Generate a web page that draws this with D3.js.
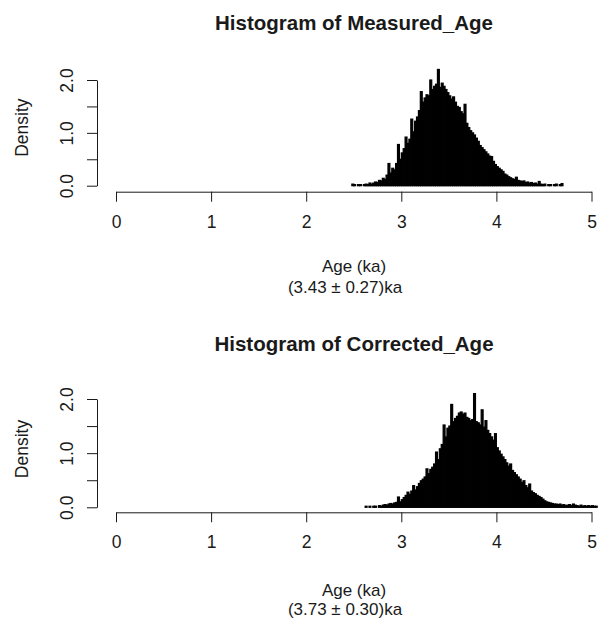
<!DOCTYPE html>
<html>
<head>
<meta charset="utf-8">
<script src="https://cdn.jsdelivr.net/npm/d3@7"></script>
<style>
    body { margin: 0; background: #fff; }
    svg { display: block; font-family: "Liberation Sans", Arial, sans-serif; }
</style>
</head>
<body>
<div id="chart"></div>
<script>
// Histogram data (density per bin of width 0.02 ka)
const binWidth = 0.02;
const measuredStart = 2.48;
const measuredDensity = [
    0.03, 0.02, 0.00, 0.02, 0.02, 0.00, 0.02, 0.03, 0.02, 0.05,
    0.03, 0.05, 0.07, 0.06, 0.10, 0.09, 0.14, 0.12, 0.20, 0.42,
    0.24, 0.33, 0.30, 0.42, 0.78, 0.50, 0.62, 0.70, 0.92, 0.80,
    0.88, 1.26, 1.02, 1.22, 1.30, 1.42, 1.78, 1.58, 1.66, 1.72,
    1.70, 2.00, 1.82, 1.88, 1.92, 2.20, 1.86, 1.94, 1.88, 1.82,
    1.76, 1.70, 1.64, 1.68, 1.58, 1.50, 1.48, 1.40, 1.36, 1.54,
    1.18, 1.10, 1.04, 1.00, 0.96, 0.90, 0.84, 0.76, 0.72, 0.68,
    0.64, 0.60, 0.56, 0.55, 0.46, 0.40, 0.36, 0.33, 0.30, 0.27,
    0.22, 0.20, 0.17, 0.15, 0.13, 0.12, 0.16, 0.10, 0.09, 0.08,
    0.09, 0.06, 0.07, 0.05, 0.06, 0.04, 0.05, 0.03, 0.08, 0.03,
    0.02, 0.03, 0.00, 0.02, 0.02, 0.00, 0.02, 0.03, 0.00, 0.02,
    0.04
];
const correctedStart = 2.62;
const correctedDensity = [
    0.02, 0.00, 0.02, 0.00, 0.02, 0.02, 0.00, 0.03, 0.02, 0.04,
    0.05, 0.04, 0.06, 0.07, 0.06, 0.08, 0.09, 0.19, 0.10, 0.14,
    0.18, 0.22, 0.28, 0.24, 0.30, 0.40, 0.32, 0.38, 0.44, 0.49,
    0.52, 0.56, 0.71, 0.62, 0.70, 0.74, 0.80, 1.02, 0.88, 1.08,
    1.16, 1.52, 1.30, 1.46, 1.50, 1.90, 1.58, 1.64, 1.68, 1.74,
    1.76, 1.72, 1.74, 1.66, 1.64, 1.60, 1.62, 2.10, 1.58, 1.56,
    1.52, 1.80, 1.48, 1.60, 1.42, 1.36, 1.30, 1.24, 1.36, 1.10,
    1.04, 0.98, 0.93, 0.88, 0.82, 0.76, 0.80, 0.68, 0.64, 0.60,
    0.56, 0.52, 0.46, 0.49, 0.40, 0.36, 0.43, 0.30, 0.27, 0.25,
    0.22, 0.20, 0.18, 0.15, 0.12, 0.10, 0.09, 0.08, 0.07, 0.06,
    0.06, 0.05, 0.06, 0.04, 0.05, 0.03, 0.04, 0.05, 0.03, 0.06,
    0.04, 0.03, 0.02, 0.04, 0.02, 0.03, 0.02, 0.03, 0.02, 0.03,
    0.02, 0.02
];

const xTicks = [0, 1, 2, 3, 4, 5];
const yTicks = [0, 0.5, 1, 1.5, 2];
const yTickLabels = ["0.0", "", "1.0", "", "2.0"];
const titles = ["Histogram of Measured_Age", "Histogram of Corrected_Age"];
const xLabel = "Age (ka)";
const yLabel = "Density";
const subLabels = ["(3.43 \u00b1 0.27)ka", "(3.73 \u00b1 0.30)ka"];

const width = 600, height = 621;
const ink = "#1a1a1a";

const svg = d3.select("#chart").append("svg")
    .attr("width", width)
    .attr("height", height)
    .attr("viewBox", `0 0 ${width} ${height}`);

svg.append("rect").attr("width", width).attr("height", height).attr("fill", "#fff");

class HistPanel {
    constructor(svg, opts) {
        this.svg = svg;
        this.opts = opts;
        this.initVis();
    }

    initVis() {
        let vis = this;
        const o = vis.opts;

        vis.g = vis.svg.append("g");

        // scales
        vis.x = d3.scaleLinear().domain([0, 5]).range([116, 591.5]);
        vis.y = d3.scaleLinear().domain([0, 2]).range([o.yZero, o.yTwo]);

        // bins
        const bins = o.values.map((v, i) => ({
            x0: o.start + i * binWidth,
            x1: o.start + (i + 1) * binWidth,
            density: v
        }));

        vis.g.selectAll(".bar")
            .data(bins)
            .join("rect")
            .attr("class", "bar")
            .attr("x", d => vis.x(d.x0))
            .attr("width", d => vis.x(d.x1) - vis.x(d.x0))
            .attr("y", d => vis.y(d.density))
            .attr("height", d => vis.y(0) - vis.y(d.density))
            .attr("fill", "#000")
            .attr("stroke", "#000")
            .attr("stroke-width", 1.2);

        // x axis (R style, offset below the bars)
        const xAxis = d3.axisBottom(vis.x)
            .tickValues(xTicks)
            .tickSize(10)
            .tickSizeOuter(0)
            .tickFormat(d3.format("d"));

        const xg = vis.g.append("g")
            .attr("transform", `translate(0,${o.xAxisY})`)
            .call(xAxis);
        xg.select(".domain").attr("stroke", ink);
        xg.selectAll(".tick line").attr("stroke", ink);
        xg.selectAll(".tick text")
            .attr("y", 36)
            .attr("dy", 0)
            .attr("fill", ink)
            .style("font-size", "17.5px");

        // y axis with rotated labels
        const yAxis = d3.axisLeft(vis.y)
            .tickValues(yTicks)
            .tickSize(10)
            .tickSizeOuter(0)
            .tickFormat((d, i) => yTickLabels[i]);

        const yg = vis.g.append("g")
            .attr("transform", `translate(97,0)`)
            .call(yAxis);
        yg.select(".domain").attr("stroke", ink);
        yg.selectAll(".tick line").attr("stroke", ink);
        yg.selectAll(".tick text")
            .attr("transform", "rotate(-90)")
            .attr("x", 0)
            .attr("y", -24)
            .attr("dy", 0)
            .attr("text-anchor", "middle")
            .attr("fill", ink)
            .style("font-size", "17.5px");

        // title
        vis.g.append("text")
            .attr("x", 354)
            .attr("y", o.titleY)
            .attr("text-anchor", "middle")
            .attr("fill", ink)
            .style("font-size", "20.5px")
            .style("font-weight", "bold")
            .text(o.title);

        // axis labels
        vis.g.append("text")
            .attr("transform", `translate(28,${o.yLabelY}) rotate(-90)`)
            .attr("text-anchor", "middle")
            .attr("fill", ink)
            .style("font-size", "17.5px")
            .text(yLabel);

        vis.g.append("text")
            .attr("x", 354)
            .attr("y", o.xLabelY)
            .attr("text-anchor", "middle")
            .attr("fill", ink)
            .style("font-size", "17px")
            .text(xLabel);

        vis.g.append("text")
            .attr("x", 345)
            .attr("y", o.subY)
            .attr("text-anchor", "middle")
            .attr("fill", ink)
            .style("font-size", "17px")
            .text(o.sub);
    }
}

new HistPanel(svg, {
    values: measuredDensity, start: measuredStart,
    yZero: 185.7, yTwo: 80, xAxisY: 191.7,
    titleY: 30, yLabelY: 127.6, xLabelY: 272, subY: 293,
    title: titles[0], sub: subLabels[0]
});

new HistPanel(svg, {
    values: correctedDensity, start: correctedStart,
    yZero: 507.3, yTwo: 399, xAxisY: 512.3,
    titleY: 351, yLabelY: 449, xLabelY: 596, subY: 615,
    title: titles[1], sub: subLabels[1]
});
</script>
</body>
</html>
